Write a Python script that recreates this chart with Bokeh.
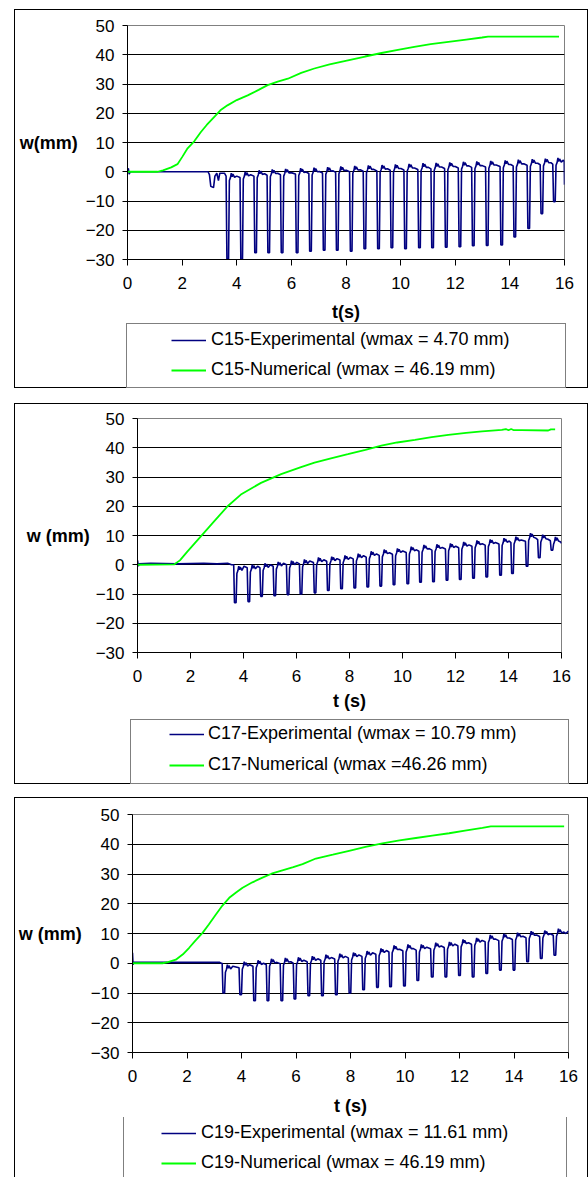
import numpy as np
from bokeh.plotting import figure
from bokeh.models import Range1d, FixedTicker, Legend, LegendItem, Spacer, GlobalInlineStyleSheet
from bokeh.layouts import column, row
from bokeh.embed import file_html
from bokeh.resources import INLINE

# ---------------- data ----------------
x_ticks = [0, 2, 4, 6, 8, 10, 12, 14, 16]
y_ticks = [-30, -20, -10, 0, 10, 20, 30, 40, 50]

# C15
num_t1 = [0, 1.1, 1.3, 1.6, 1.83, 2.0, 2.2, 2.45, 2.68, 2.9, 3.17, 3.4, 3.66, 4.0, 4.4, 4.8, 5.13, 5.5,
          5.87, 6.36, 6.84, 7.4, 8.07, 8.7, 9.3, 9.9, 10.5, 11.1, 11.75, 12.4, 12.98, 13.2, 15.8]
num_w1 = [0, 0, 0.5, 1.5, 2.6, 5.0, 8.0, 10.5, 13.5, 16.0, 18.7, 21.0, 22.7, 24.5, 26.1, 28.0, 29.6, 30.8,
          31.8, 33.8, 35.3, 36.7, 38.1, 39.4, 40.6, 41.7, 42.7, 43.6, 44.4, 45.2, 45.9, 46.2, 46.2]
pre_t1 = [0, 0.03, 0.06, 0.1, 2.95, 3.0, 3.05, 3.15, 3.2, 3.27, 3.33, 3.38, 3.55]
pre_w1 = [0.5, 1.2, -0.8, 0, 0, -1.0, -5.0, -5.4, -1.5, -0.5, -3.0, -0.5, -0.5]
dip_t1 = [3.67, 4.18, 4.69, 5.17, 5.66, 6.21, 6.70, 7.20, 7.68, 8.19, 8.69, 9.19, 9.68, 10.18, 10.69,
          11.17, 11.67, 12.17, 12.66, 13.17, 13.70, 14.18, 14.69, 15.17, 15.63]
dip_w1 = [-29.8, -30.0, -27.7, -27.7, -27.7, -27.7, -27.2, -26.8, -26.8, -27.2, -26.3, -26.3, -26.0,
          -26.3, -26.0, -26.0, -25.8, -25.6, -25.3, -25.2, -25.0, -22.3, -19.4, -14.3, -10.2]
peak_w1 = [-0.5, 0.0, 0.5, 0.8, 1.0, 1.2, 1.4, 1.6, 1.8, 2.0, 2.2, 2.3, 2.5, 2.7, 2.9, 3.0, 3.2, 3.4,
           3.5, 3.7, 3.9, 4.1, 4.3, 4.5, 4.7]
base_w1 = [-1.5, -2.0, -1.5, -1.2, -1.0, -0.8, -0.6, -0.4, -0.2, 0.0, 0.2, 0.3, 0.5, 0.6, 0.8, 1.0,
           1.1, 1.3, 1.5, 1.6, 1.8, 2.0, 2.2, 2.4, 2.6]
end_t1 = [15.99, 16.0]
end_w1 = [3.5, -4.4]

# C17
num_t2 = [0, 1.38, 1.6, 1.88, 2.39, 2.89, 3.4, 3.9, 4.66, 5.42, 6.17, 6.68, 7.3, 7.94, 8.6, 9.2, 9.8,
          10.47, 11.1, 11.73, 12.4, 13.0, 13.75, 13.9, 14.0, 14.1, 14.2, 14.5, 15.5, 15.6, 15.76]
num_w2 = [0, 0.1, 1.5, 4.5, 9.7, 14.8, 20.0, 24.0, 28.0, 31.0, 33.4, 34.9, 36.4, 37.8, 39.3, 40.7, 41.8,
          42.7, 43.6, 44.4, 45.1, 45.6, 46.1, 46.4, 46.0, 46.4, 46.0, 46.0, 45.9, 46.3, 46.3]
pre_t2 = [0, 0.03, 0.06, 0.5, 1.5, 2.5, 3.0, 3.4, 3.55]
pre_w2 = [1.5, -0.5, 0.3, 0.5, 0.3, 0.5, 0.3, 0.5, 0.0]
dip_t2 = [3.69, 4.20, 4.68, 5.18, 5.68, 6.17, 6.70, 7.20, 7.70, 8.20, 8.69, 9.18, 9.68, 10.20, 10.68,
          11.17, 11.68, 12.18, 12.68, 13.18, 13.70, 14.15, 14.70, 15.16, 15.64]
dip_w2 = [-13.0, -12.6, -10.8, -10.6, -10.2, -10.0, -9.6, -8.8, -8.2, -7.9, -7.6, -7.3, -6.8, -6.5,
          -6.0, -5.8, -5.3, -5.0, -4.6, -4.2, -3.6, -3.0, -0.5, 2.4, 5.0]
peak_w2 = [-0.5, 0.0, 0.5, 1.0, 1.4, 1.8, 2.5, 2.8, 3.2, 3.8, 4.6, 5.2, 5.6, 6.2, 6.8, 7.0, 7.3, 7.8,
           8.3, 8.7, 9.1, 9.6, 10.8, 10.3, 9.5]
base_w2 = [0.0, -1.0, -1.0, -0.5, 0.0, 0.3, 0.8, 1.2, 1.6, 2.0, 2.6, 3.2, 3.6, 4.2, 4.6, 5.0, 5.4, 5.8,
           6.3, 6.7, 7.1, 7.6, 8.0, 8.6, 8.2]
end_t2 = [16.0]
end_w2 = [7.3]

# C19
num_t3 = [0, 1.1, 1.3, 1.59, 1.85, 2.08, 2.3, 2.57, 2.8, 3.06, 3.3, 3.55, 3.8, 4.04, 4.4, 4.77, 5.1, 5.5,
          5.9, 6.24, 6.73, 7.35, 7.95, 8.55, 9.17, 9.8, 10.4, 11.0, 11.62, 12.2, 12.84, 13.15, 15.84]
num_w3 = [0, 0, 0.4, 1.2, 3.0, 5.2, 7.5, 10.2, 13.0, 16.4, 19.4, 22.0, 23.8, 25.4, 27.2, 28.8, 30.1, 31.2,
          32.3, 33.3, 35.2, 36.5, 37.8, 39.1, 40.3, 41.3, 42.1, 42.9, 43.7, 44.6, 45.5, 46.0, 46.0]
pre_t3 = [0, 0.02, 0.05, 3.2, 3.25]
pre_w3 = [3.5, -0.5, 0.3, 0.3, 0.0]
dip_t3 = [3.35, 3.97, 4.48, 4.97, 5.48, 5.96, 6.47, 6.97, 7.48, 7.98, 8.48, 8.99, 9.47, 9.98, 10.47,
          11.0, 11.5, 12.0, 12.5, 13.0, 13.5, 14.0, 14.5, 15.0, 15.5]
dip_w3 = [-10.0, -10.6, -12.6, -12.6, -12.6, -12.0, -10.9, -10.9, -10.6, -10.0, -8.9, -8.1, -7.9, -7.6,
          -5.8, -4.6, -4.6, -4.1, -4.6, -3.4, -2.3, -2.3, 0.5, 1.6, 2.7]
peak_w3 = [-0.5, 0.5, 1.0, 1.5, 1.8, 2.0, 2.4, 2.9, 3.2, 3.6, 4.1, 5.0, 6.0, 6.3, 6.3, 6.9, 7.2, 8.0,
           8.5, 9.5, 9.9, 10.3, 10.8, 11.0, 11.6]
base_w3 = [0.0, -1.5, -1.0, -0.5, -0.2, 0.0, 0.5, 1.0, 1.4, 1.8, 2.3, 3.0, 3.8, 4.2, 4.4, 4.9, 5.3, 5.9,
           6.4, 7.2, 7.6, 8.0, 8.6, 9.0, 9.4]
end_t3 = [15.9, 16.0]
end_w3 = [10.0, 10.8]

legend_labels = [
    ["C15-Experimental (wmax = 4.70 mm)", "C15-Numerical (wmax = 46.19 mm)"],
    ["C17-Experimental (wmax = 10.79 mm)", "C17-Numerical (wmax =46.26 mm)"],
    ["C19-Experimental (wmax = 11.61 mm)", "C19-Numerical (wmax = 46.19 mm)"],
]
y_labels = ["w(mm)", "w (mm)", "w (mm)"]
x_labels = ["t(s)", "t (s)", "t (s)"]

EXP_COLOR = "#000080"
NUM_COLOR = "#00FF00"
FONT = "Liberation Sans"
LINE = "1px solid black"


def exp_series(pre_t, pre_w, dip_t, dip_w, peak_w, base_w, end_t, end_w):
    """Connect the read per-cycle levels (level before the dip, dip minimum,
    level after the dip) into one polyline."""
    t, w = list(pre_t), list(pre_w)
    n = len(dip_t)
    for i in range(n):
        c, d, pk, b = dip_t[i], dip_w[i], peak_w[i], base_w[i]
        nxt = base_w[i + 1] if i + 1 < n else end_w[0]
        t += [c - 0.06, c - 0.03, c + 0.03, c + 0.06, c + 0.10, c + 0.13, c + 0.16, c + 0.19,
              c + 0.25, c + 0.33]
        w += [b, d, d, pk - 2.5, pk - 1.5, pk, pk - 1.2, pk - 0.3, pk - 1.4, nxt + 0.5]
    t += list(end_t)
    w += list(end_w)
    return t, w


def no_align(p):
    if "frame_align" in p.properties():
        p.frame_align = False


def make_chart(num_t, num_w, exp_t, exp_w, ylab, xlab, height, mb, xstand, ystand):
    mbl, mbr, mbt, mbb = mb
    p = figure(width=574, height=height, output_backend="svg", toolbar_location=None,
               x_range=Range1d(0, 16), y_range=Range1d(-30, 50),
               min_border_left=mbl, min_border_right=mbr, min_border_top=mbt, min_border_bottom=mbb,
               styles={"border-top": LINE, "border-left": LINE, "border-right": LINE})
    no_align(p)
    p.background_fill_color = "white"
    p.border_fill_color = "white"
    p.outline_line_color = "#808080"
    p.outline_line_width = 1

    p.xgrid.visible = False
    p.ygrid.ticker = FixedTicker(ticks=[-20, -10, 0, 10, 20, 30, 40])
    p.ygrid.grid_line_color = "black"
    p.ygrid.grid_line_width = 1

    p.xaxis.ticker = FixedTicker(ticks=x_ticks)
    p.yaxis.ticker = FixedTicker(ticks=y_ticks)
    for ax in (p.xaxis, p.yaxis):
        ax.axis_line_color = "black"
        ax.major_tick_line_color = "black"
        ax.major_tick_in = 0
        ax.minor_tick_in = 0
        ax.minor_tick_out = 0
        ax.major_label_text_font = FONT
        ax.major_label_text_font_size = "17px"
        ax.major_label_text_color = "black"
        ax.axis_label_text_font = FONT
        ax.axis_label_text_font_size = "18px"
        ax.axis_label_text_font_style = "bold"
        ax.axis_label_text_color = "black"
    p.xaxis.major_tick_out = 6
    p.yaxis.major_tick_out = 5
    p.xaxis.major_label_standoff = 11
    p.yaxis.major_label_standoff = 8
    p.xaxis.axis_label = xlab
    p.xaxis.axis_label_standoff = xstand
    p.yaxis.axis_label = ylab
    p.yaxis.axis_label_orientation = "horizontal"
    p.yaxis.axis_label_standoff = ystand

    p.line(exp_t, exp_w, line_color=EXP_COLOR, line_width=1.6)
    p.line(num_t, num_w, line_color=NUM_COLOR, line_width=1.8)
    return p


def make_legend(num_t, num_w, exp_t, exp_w, labels, height, legA, legB, styles):
    p = figure(width=574, height=height, output_backend="svg", toolbar_location=None,
               x_range=Range1d(0, 16), y_range=Range1d(-30, 50),
               x_axis_type=None, y_axis_type=None,
               min_border_left=0, min_border_right=0, min_border_top=0, min_border_bottom=0,
               styles=styles)
    no_align(p)
    p.outline_line_color = None
    p.grid.visible = False
    # hidden copies of the two series: they only provide the legend swatches
    r_exp = p.line(exp_t, exp_w, line_color=EXP_COLOR, line_width=1.6, visible=False)
    r_num = p.line(num_t, num_w, line_color=NUM_COLOR, line_width=1.8, visible=False)

    (ax_, ay_, aw, ah) = legA
    box = Legend(items=[LegendItem(label=" ", renderers=[])], location=(ax_, ay_),
                 padding=0, margin=0, spacing=0, glyph_width=1, glyph_height=ah,
                 label_height=ah, label_width=aw - 1, label_standoff=0,
                 border_line_color="black", border_line_width=1,
                 background_fill_color="white", background_fill_alpha=1.0)
    (bx, by, bsp, bstand) = legB
    leg = Legend(items=[LegendItem(label=labels[0], renderers=[r_exp]),
                        LegendItem(label=labels[1], renderers=[r_num])],
                 location=(bx, by), padding=0, margin=0, spacing=bsp,
                 glyph_width=35, glyph_height=20, label_height=20, label_standoff=bstand,
                 label_text_font=FONT, label_text_font_size="18px", label_text_color="black",
                 border_line_alpha=0, background_fill_alpha=0,
                 inactive_fill_alpha=0)
    p.add_layout(box, "center")
    p.add_layout(leg, "center")
    return p


e1 = exp_series(pre_t1, pre_w1, dip_t1, dip_w1, peak_w1, base_w1, end_t1, end_w1)
e2 = exp_series(pre_t2, pre_w2, dip_t2, dip_w2, peak_w2, base_w2, end_t2, end_w2)
e3 = exp_series(pre_t3, pre_w3, dip_t3, dip_w3, peak_w3, base_w3, end_t3, end_w3)

leg_border = {"border-bottom": LINE, "border-left": LINE, "border-right": LINE}
leg_border3 = {"border-left": LINE, "border-right": LINE}

c1 = make_chart(num_t1, num_w1, e1[0], e1[1], y_labels[0], x_labels[0], 314, (112, 25, 15, 65), 10, 5)
l1 = make_legend(num_t1, num_w1, e1[0], e1[1], legend_labels[0], 65,
                 (111, 0, 438, 63), (156, 8, 9, 5), leg_border)
c2 = make_chart(num_t2, num_w2, e2[0], e2[1], y_labels[1], x_labels[1], 316, (122, 28, 14, 68), 6, 3)
l2 = make_legend(num_t2, num_w2, e2[0], e2[1], legend_labels[1], 65,
                 (115, 0, 437, 63), (154, 9, 10, 4), leg_border)
c3 = make_chart(num_t3, num_w3, e3[0], e3[1], y_labels[2], x_labels[2], 320, (115, 21, 16, 66), 11, 6)
l3 = make_legend(num_t3, num_w3, e3[0], e3[1], legend_labels[2], 60,
                 (108, -4, 442, 63), (146, 4, 9, 5), leg_border3)

layout = column(
    Spacer(height=1),
    row(Spacer(width=6), column(c1, l1)),
    Spacer(height=15),
    row(Spacer(width=6), column(c2, l2)),
    Spacer(height=13),
    row(Spacer(width=6), column(c3, l3)),
    stylesheets=[GlobalInlineStyleSheet(
        css="html, body { overflow: hidden !important; } body { margin: 8px 0px 0px 8px !important; }")],
)

open("out.html", "w").write(file_html(layout, INLINE))
